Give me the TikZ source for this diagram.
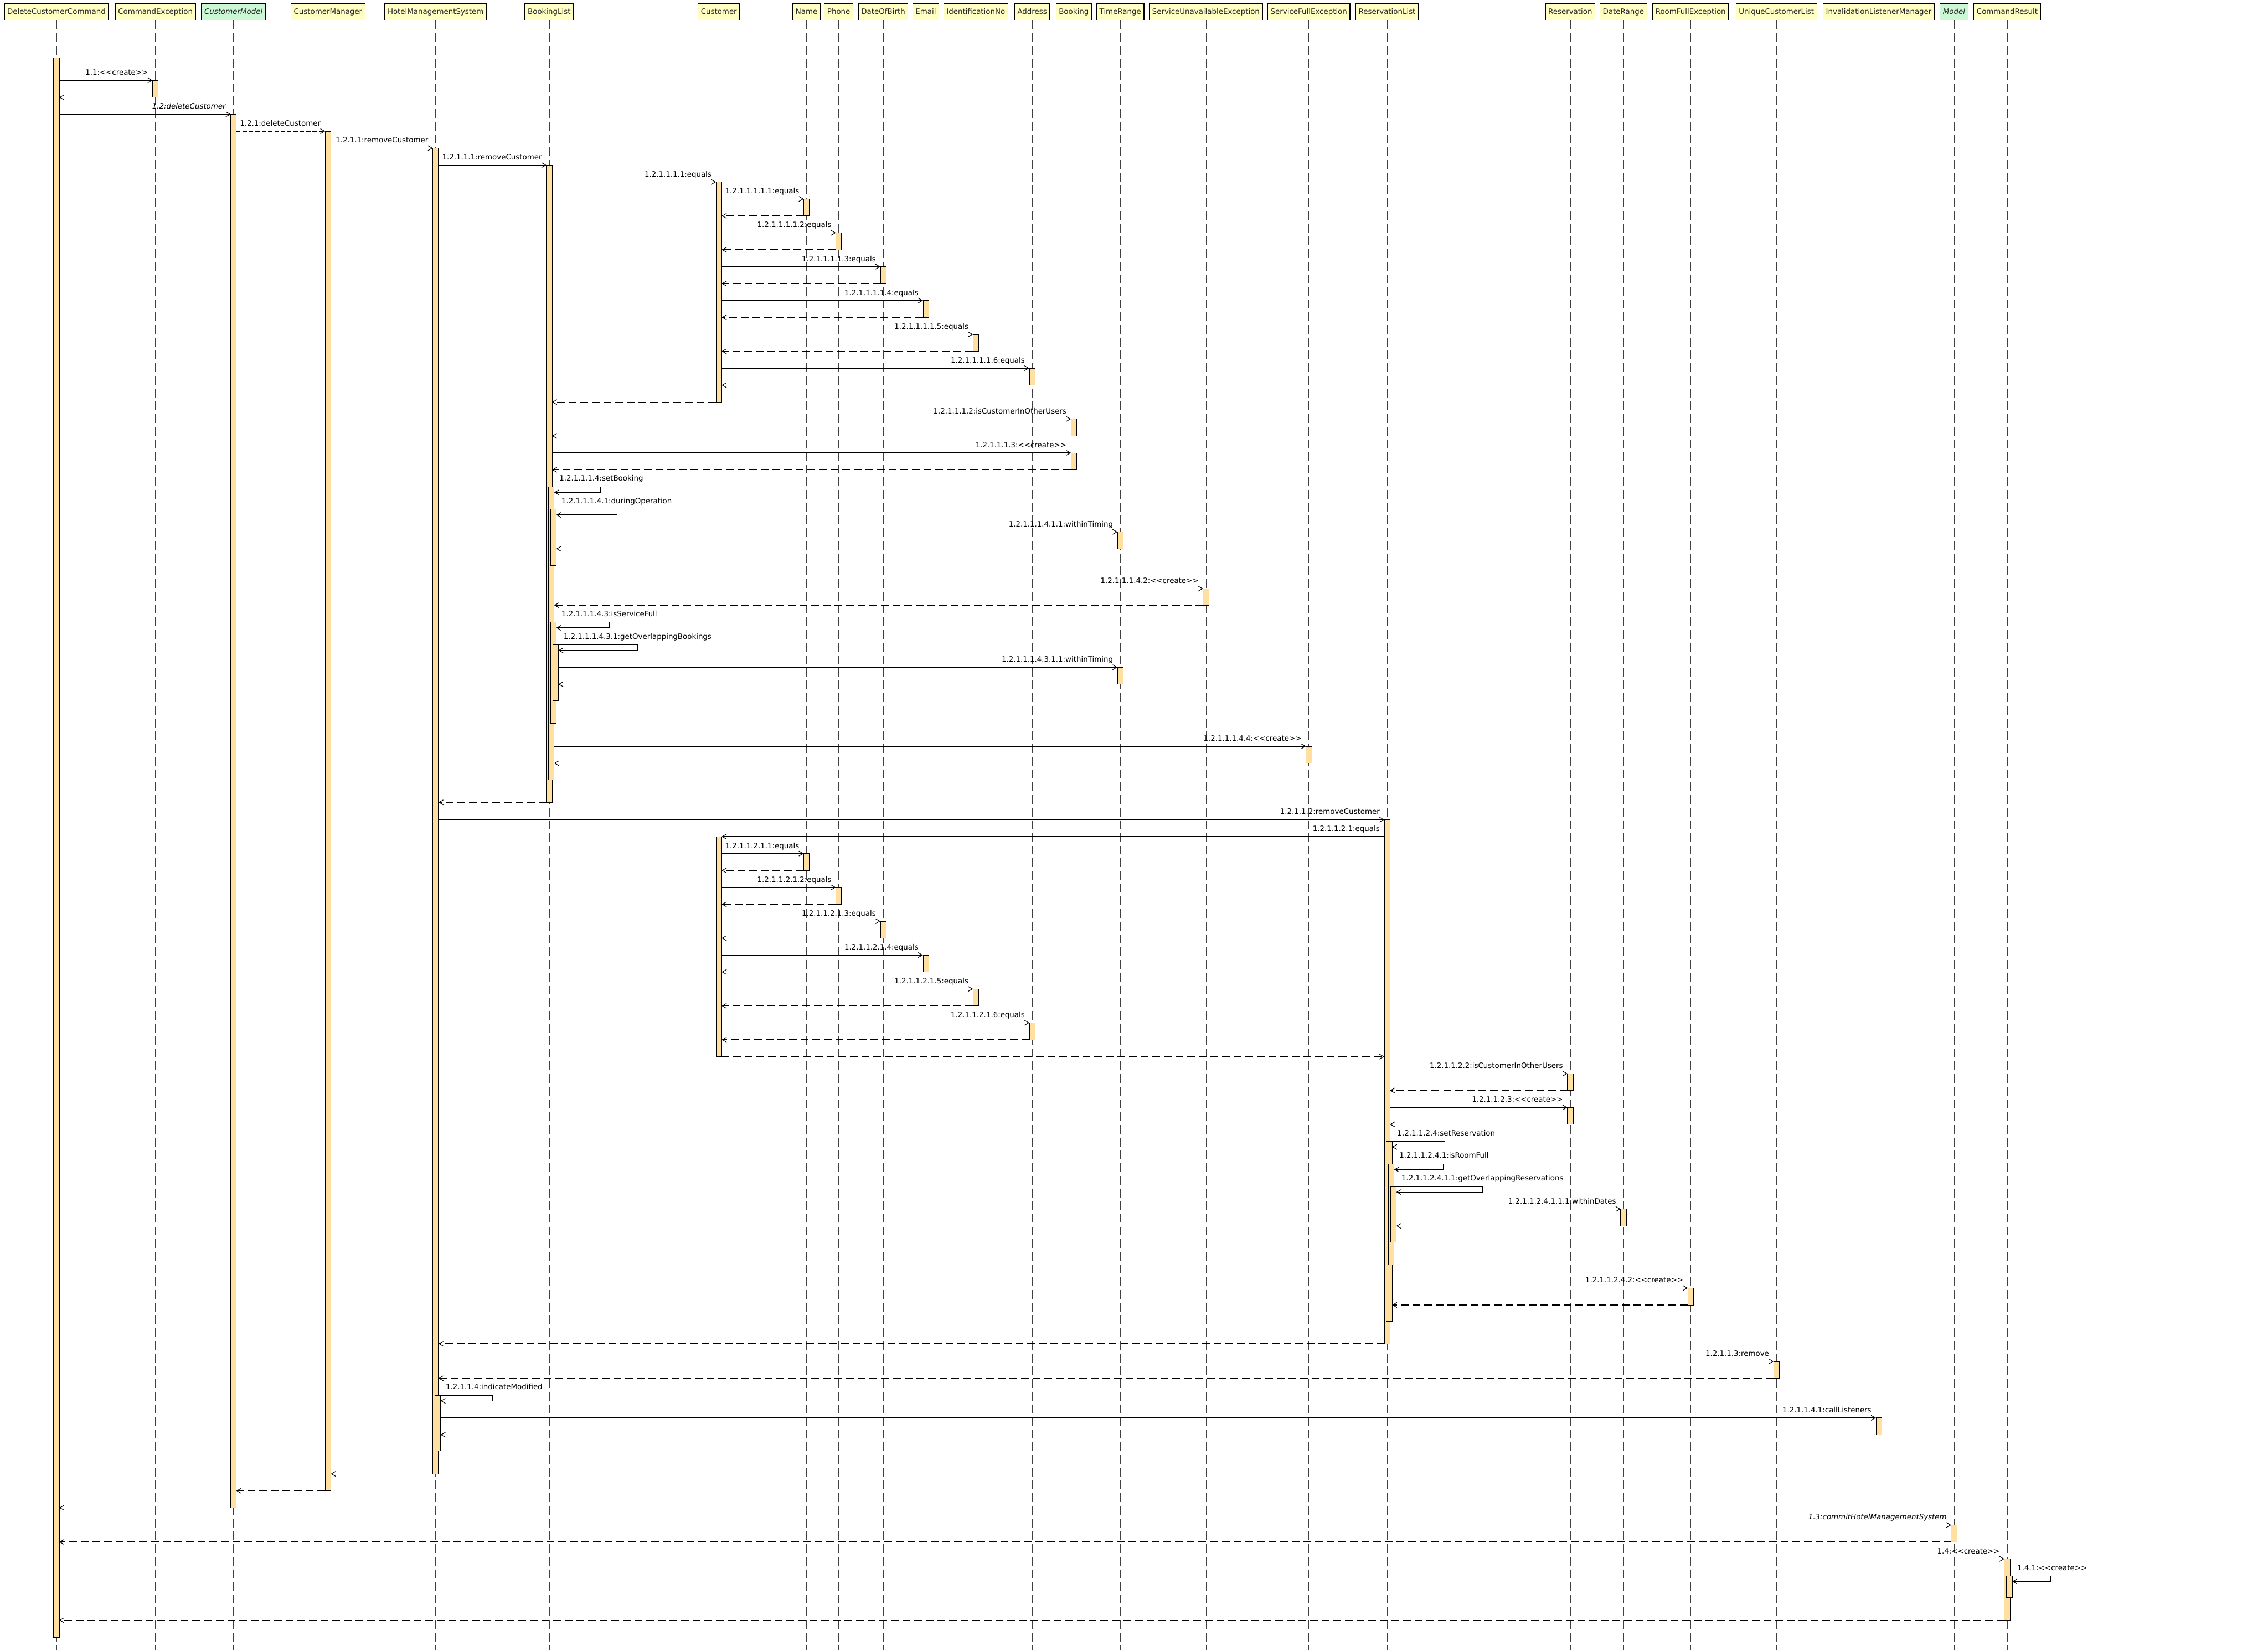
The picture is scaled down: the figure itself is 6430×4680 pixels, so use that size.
\documentclass[tikz,border=0pt]{standalone}
\usepackage{fontspec}
\setmainfont{DejaVu Sans}
\usetikzlibrary{arrows.meta,fit,calc}
\definecolor{hdrY}{RGB}{255,255,196}
\definecolor{hdrG}{RGB}{204,247,212}
\definecolor{actC}{RGB}{255,224,160}
\newcommand\cre{<\kern0pt<create>\kern0pt>}
% lifeline x positions
\def\LLdcc{160}\def\LLce{440.6}\def\LLcm{662}\def\LLcmg{930}\def\LLhms{1235}
\def\LLbl{1557}\def\LLcu{2038}\def\LLna{2286.6}\def\LLph{2377.8}\def\LLdob{2504}
\def\LLem{2624.8}\def\LLid{2766.5}\def\LLad{2926.4}\def\LLbk{3044.3}\def\LLtr{3176.2}
\def\LLsue{3418.9}\def\LLsfe{3710.7}\def\LLrl{3932.5}\def\LLres{4451.7}\def\LLdr{4602.5}
\def\LLrfe{4793}\def\LLucl{5036.3}\def\LLilm{5326.4}\def\LLmod{5539.8}\def\LLcr{5690.5}
\newcommand\hdrnode[4][hdr]{\node[#1] (#2) at (#3,33.5) {#4};
  \draw[life] (#2.south) -- (#2.south |- bot);}
\newcommand\act[4]{\node[actbox,fit={(#2-8,#3) (#2+8,#4)}] (#1) {};}
\newcommand\callR[5][msg]{\draw[#1] (#2.east |- #3.north) -- (#3.north west)
  node[lbl,anchor=base east,xshift=-6pt,yshift=7.5pt] (#5) {#4};}
\newcommand\retL[2]{\draw[ret] (#1.south west) -- (#2.east |- #1.south);}
\newcommand\selfm[5]{\draw[msg] (#1.east |- #2.north)
  node[lbl,anchor=base west,xshift=10pt,yshift=8pt] (#5) {#4}
  -- ++(#3,0) -- ++(0,16) -- ($(#2.north east)+(0,16)$);}
\begin{document}
\begin{tikzpicture}[x=0.5pt,y=-0.5pt,
  hdr/.style={draw=black,line width=0.9pt,fill=hdrY,minimum height=23.5pt,
    inner xsep=4pt,inner ysep=0pt,text height=9pt,text depth=2.5pt,text=black!85,
    font=\fontsize{10.5pt}{12pt}\selectfont},
  hdrg/.style={hdr,fill=hdrG,font=\fontsize{10.5pt}{12pt}\selectfont\itshape},
  life/.style={draw=black!75,line width=0.5pt,dash pattern=on 12.5pt off 5.5pt},
  actbox/.style={draw=black,line width=0.6pt,fill=actC,inner sep=0pt,outer sep=0pt},
  msg/.style={draw=black,line width=0.9pt,-{Straight Barb[length=6pt,width=7pt]}},
  msgd/.style={msg,dash pattern=on 6pt off 3pt},
  ret/.style={msg,dash pattern=on 11pt off 5.5pt},
  lbl/.style={font=\fontsize{10.5pt}{12pt}\selectfont,inner sep=0pt,text=black}]
\path[use as bounding box,fill=white] (0,0) rectangle (6430,4680);
\coordinate (bot) at (0,4680);
% headers and lifelines
\hdrnode{hDCC}{\LLdcc}{DeleteCustomerCommand}
\hdrnode{hCE}{\LLce}{CommandException}
\hdrnode[hdrg]{hCM}{\LLcm}{CustomerModel}
\hdrnode{hCMg}{\LLcmg}{CustomerManager}
\hdrnode{hHMS}{\LLhms}{HotelManagementSystem}
\hdrnode{hBL}{\LLbl}{BookingList}
\hdrnode{hCu}{\LLcu}{Customer}
\hdrnode{hNa}{\LLna}{Name}
\hdrnode{hPh}{\LLph}{Phone}
\hdrnode{hDOB}{\LLdob}{DateOfBirth}
\hdrnode{hEm}{\LLem}{Email}
\hdrnode{hId}{\LLid}{IdentificationNo}
\hdrnode{hAd}{\LLad}{Address}
\hdrnode{hBk}{\LLbk}{Booking}
\hdrnode{hTR}{\LLtr}{TimeRange}
\hdrnode{hSUE}{\LLsue}{ServiceUnavailableException}
\hdrnode{hSFE}{\LLsfe}{ServiceFullException}
\hdrnode{hRL}{\LLrl}{ReservationList}
\hdrnode{hRes}{\LLres}{Reservation}
\hdrnode{hDR}{\LLdr}{DateRange}
\hdrnode{hRFE}{\LLrfe}{RoomFullException}
\hdrnode{hUCL}{\LLucl}{UniqueCustomerList}
\hdrnode{hILM}{\LLilm}{InvalidationListenerManager}
\hdrnode[hdrg]{hMod}{\LLmod}{Model}
\hdrnode{hCR}{\LLcr}{CommandResult}
% activations
\act{aDCC}{\LLdcc}{164}{4642}
\act{aCE}{\LLce}{228}{276}
\act{aCM}{\LLcm}{324}{4275}
\act{aCMg}{\LLcmg}{372}{4227}
\act{aHMS}{\LLhms}{420}{4179}
\act{aHMSa}{\LLhms+6}{3956}{4114}
\act{aBL}{\LLbl}{468}{2275}
\act{aBLa}{\LLbl+6}{1380}{2211}
\act{aBLb}{\LLbl+12}{1444}{1603}
\act{aBLc}{\LLbl+12}{1764}{2050}
\act{aBLd}{\LLbl+18}{1828}{1986}
\act{aCuA}{\LLcu}{516}{1140}
\act{aNaA}{\LLna}{564}{612}
\act{aPhA}{\LLph}{660}{708}
\act{aDOBA}{\LLdob}{756}{804}
\act{aEmA}{\LLem}{852}{900}
\act{aIdA}{\LLid}{948}{996}
\act{aAdA}{\LLad}{1044}{1092}
\act{aBkA}{\LLbk}{1188}{1236}
\act{aBkB}{\LLbk}{1284}{1332}
\act{aTRA}{\LLtr}{1508}{1556}
\act{aSUE}{\LLsue}{1669}{1716}
\act{aTRB}{\LLtr}{1892}{1940}
\act{aSFE}{\LLsfe}{2116}{2164}
\act{aRL}{\LLrl}{2324}{3810}
\act{aRLa}{\LLrl+6}{3236}{3746}
\act{aRLb}{\LLrl+12}{3300}{3586}
\act{aRLc}{\LLrl+18}{3364}{3522}
\act{aCuB}{\LLcu}{2372}{2996}
\act{aNaB}{\LLna}{2420}{2468}
\act{aPhB}{\LLph}{2516}{2564}
\act{aDOBB}{\LLdob}{2612}{2660}
\act{aEmB}{\LLem}{2708}{2756}
\act{aIdB}{\LLid}{2804}{2852}
\act{aAdB}{\LLad}{2900}{2948}
\act{aResA}{\LLres}{3044}{3092}
\act{aResB}{\LLres}{3140}{3188}
\act{aDR}{\LLdr}{3428}{3476}
\act{aRFE}{\LLrfe}{3652}{3700}
\act{aUCL}{\LLucl}{3860}{3908}
\act{aILM}{\LLilm}{4020}{4068}
\act{aMod}{\LLmod}{4324}{4372}
\act{aCR}{\LLcr}{4420}{4594}
\act{aCRa}{\LLcr+6}{4468}{4530}
% messages
\callR{aDCC}{aCE}{1.1:\cre}{m1}
\retL{aCE}{aDCC}
\callR{aDCC}{aCM}{\textit{1.2:deleteCustomer}}{m2}
\callR[msgd]{aCM}{aCMg}{1.2.1:deleteCustomer}{m3}
\callR{aCMg}{aHMS}{1.2.1.1:removeCustomer}{m4}
\callR{aHMS}{aBL}{1.2.1.1.1:removeCustomer}{m5}
\callR{aBL}{aCuA}{1.2.1.1.1.1:equals}{m6}
\callR{aCuA}{aNaA}{1.2.1.1.1.1.1:equals}{m7}\retL{aNaA}{aCuA}
\callR{aCuA}{aPhA}{1.2.1.1.1.1.2:equals}{m8}\retL{aPhA}{aCuA}
\callR{aCuA}{aDOBA}{1.2.1.1.1.1.3:equals}{m9}\retL{aDOBA}{aCuA}
\callR{aCuA}{aEmA}{1.2.1.1.1.1.4:equals}{m10}\retL{aEmA}{aCuA}
\callR{aCuA}{aIdA}{1.2.1.1.1.1.5:equals}{m11}\retL{aIdA}{aCuA}
\callR{aCuA}{aAdA}{1.2.1.1.1.1.6:equals}{m12}\retL{aAdA}{aCuA}
\retL{aCuA}{aBL}
\callR{aBL}{aBkA}{1.2.1.1.1.2:isCustomerInOtherUsers}{m13}\retL{aBkA}{aBL}
\callR{aBL}{aBkB}{1.2.1.1.1.3:\cre}{m14}\retL{aBkB}{aBL}
\selfm{aBL}{aBLa}{137}{1.2.1.1.1.4:setBooking}{m15}
\selfm{aBLa}{aBLb}{179}{1.2.1.1.1.4.1:duringOperation}{m16}
\callR{aBLb}{aTRA}{1.2.1.1.1.4.1.1:withinTiming}{m17}\retL{aTRA}{aBLb}
\callR{aBLa}{aSUE}{1.2.1.1.1.4.2:\cre}{m18}\retL{aSUE}{aBLa}
\selfm{aBLa}{aBLc}{156}{1.2.1.1.1.4.3:isServiceFull}{m19}
\selfm{aBLc}{aBLd}{231}{1.2.1.1.1.4.3.1:getOverlappingBookings}{m20}
\callR{aBLd}{aTRB}{1.2.1.1.1.4.3.1.1:withinTiming}{m21}\retL{aTRB}{aBLd}
\callR{aBLa}{aSFE}{1.2.1.1.1.4.4:\cre}{m22}\retL{aSFE}{aBLa}
\retL{aBL}{aHMS}
\callR{aHMS}{aRL}{1.2.1.1.2:removeCustomer}{m23}
\draw[msg] (aRL.west |- aCuB.north)
  node[lbl,anchor=base east,xshift=-6pt,yshift=7.5pt] (m24) {1.2.1.1.2.1:equals}
  -- (aCuB.north east);
\callR{aCuB}{aNaB}{1.2.1.1.2.1.1:equals}{m25}\retL{aNaB}{aCuB}
\callR{aCuB}{aPhB}{1.2.1.1.2.1.2:equals}{m26}\retL{aPhB}{aCuB}
\callR{aCuB}{aDOBB}{1.2.1.1.2.1.3:equals}{m27}\retL{aDOBB}{aCuB}
\callR{aCuB}{aEmB}{1.2.1.1.2.1.4:equals}{m28}\retL{aEmB}{aCuB}
\callR{aCuB}{aIdB}{1.2.1.1.2.1.5:equals}{m29}\retL{aIdB}{aCuB}
\callR{aCuB}{aAdB}{1.2.1.1.2.1.6:equals}{m30}\retL{aAdB}{aCuB}
\draw[ret] (aCuB.south east) -- (aRL.west |- aCuB.south);
\callR{aRL}{aResA}{1.2.1.1.2.2:isCustomerInOtherUsers}{m31}\retL{aResA}{aRL}
\callR{aRL}{aResB}{1.2.1.1.2.3:\cre}{m32}\retL{aResB}{aRL}
\selfm{aRL}{aRLa}{156}{1.2.1.1.2.4:setReservation}{m33}
\selfm{aRLa}{aRLb}{145}{1.2.1.1.2.4.1:isRoomFull}{m34}
\selfm{aRLb}{aRLc}{250}{1.2.1.1.2.4.1.1:getOverlappingReservations}{m35}
\callR{aRLc}{aDR}{1.2.1.1.2.4.1.1.1:withinDates}{m36}\retL{aDR}{aRLc}
\callR{aRLa}{aRFE}{1.2.1.1.2.4.2:\cre}{m37}\retL{aRFE}{aRLa}
\retL{aRL}{aHMS}
\callR{aHMS}{aUCL}{1.2.1.1.3:remove}{m38}\retL{aUCL}{aHMS}
\selfm{aHMS}{aHMSa}{154}{1.2.1.1.4:indicateModified}{m39}
\callR{aHMSa}{aILM}{1.2.1.1.4.1:callListeners}{m40}\retL{aILM}{aHMSa}
\retL{aHMS}{aCMg}
\retL{aCMg}{aCM}
\retL{aCM}{aDCC}
\callR{aDCC}{aMod}{\textit{1.3:commitHotelManagementSystem}}{m41}\retL{aMod}{aDCC}
\callR{aDCC}{aCR}{1.4:\cre}{m42}
\selfm{aCR}{aCRa}{116}{1.4.1:\cre}{m43}
\retL{aCR}{aDCC}
\end{tikzpicture}
\end{document}
